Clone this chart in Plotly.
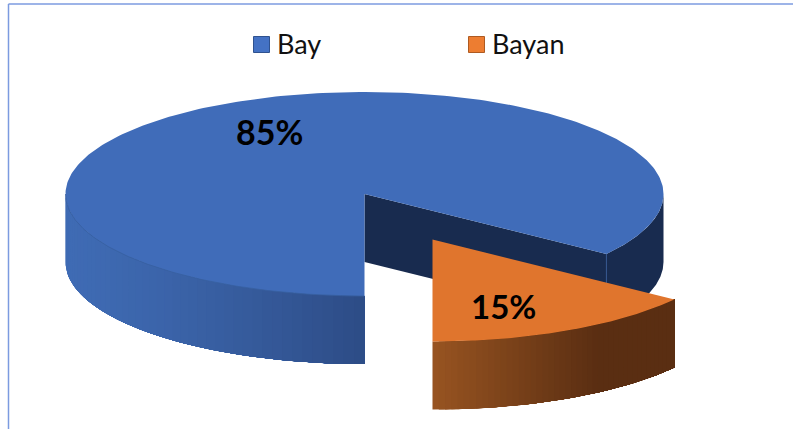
import numpy as np
import plotly.graph_objects as go

labels = ["Bay", "Bayan"]
values = [85, 15]
top_colors = ["#406CB9", "#E0752D"]
legend_colors = ["#4472C4", "#ED7D31"]
legend_edges = ["#2F528F", "#AE5A21"]

W, H = 793, 429
CX, CY, RX, RY, DEPTH = 364.5, 194.0, 299.0, 102.0, 68.0
EXPLODE = (68.0, 45.5)
START = 270.0  # slices run counter-clockwise from straight down, Bayan first
FONT = "Lato, Carlito, sans-serif"


def rim(a0, a1, cx, cy, n=120):
    t = np.radians(np.linspace(a0, a1, n))
    return cx + RX * np.cos(t), cy - RY * np.sin(t)


def lerp(c0, c1, f):
    f = min(max(f, 0), 1)
    return "rgb(%d,%d,%d)" % tuple(round(a + (b - a) * f) for a, b in zip(c0, c1))


def poly(fig, xs, ys, color, lw=0.0):
    fig.add_trace(go.Scatter(x=list(xs), y=list(ys), mode="lines", fill="toself", fillcolor=color,
                             line=dict(color=color, width=lw), hoverinfo="skip", showlegend=False))


def side(fig, a0, a1, cx, cy, colorfn, steps=45):
    # each strip runs to the end of the wall, so the next one paints over it without a seam
    edges = np.linspace(a0, a1, steps + 1)
    for i in range(steps):
        x, y = rim(edges[i], a1, cx, cy, 60)
        xm = cx + RX * np.cos(np.radians((edges[i] + edges[i + 1]) / 2))
        poly(fig, np.r_[x, x[::-1]], np.r_[y, y[::-1] + DEPTH], colorfn(xm))


fig = go.Figure()

orange_span = 360 * values[1] / sum(values)
blue_start = START + orange_span      # 324 degrees
blue_end = START + 360

# Bay: back-right wall
NAVY = "#182B4F"
x, y = rim(blue_start, 360, CX, CY)
poly(fig, np.r_[x, x[::-1]], np.r_[y, y[::-1] + DEPTH], NAVY)

# Bay: cut wall
ex, ey = rim(blue_start, blue_start, CX, CY, 1)
poly(fig, [CX, ex[0], ex[0], CX], [CY, ey[0], ey[0] + DEPTH, CY + DEPTH], NAVY)
fig.add_trace(go.Scatter(x=[ex[0], ex[0]], y=[ey[0], ey[0] + DEPTH], mode="lines",
                         line=dict(color="#33548F", width=1), hoverinfo="skip", showlegend=False))

# Bay: front-left wall gradient
side(fig, 180, 270, CX, CY,
     lambda mx: lerp((63, 107, 180), (45, 76, 134), ((mx - CX + RX) / RX) ** 1.3))

# Bay: top
x, y = rim(blue_start, blue_end, CX, CY, 300)
poly(fig, np.r_[CX, x, CX], np.r_[CY, y, CY], top_colors[0])
x, y = rim(180, 270, CX, CY)
fig.add_trace(go.Scatter(x=x, y=y, mode="lines", line=dict(color="#37609F", width=0.8),
                         hoverinfo="skip", showlegend=False))

# Bayan: wall gradient and top
ox, oy = CX + EXPLODE[0], CY + EXPLODE[1]
side(fig, START, blue_start, ox, oy,
     lambda mx: lerp((152, 84, 33), (90, 46, 18), (mx - ox) / (RX * 0.55)))
x, y = rim(START, blue_start, ox, oy, 100)
poly(fig, np.r_[ox, x, ox], np.r_[oy, y, oy], top_colors[1])

# Legend swatches
legend_x = [261.5, 476.5]
legend_text_x = [275, 490]
legend_y = 44.5
legend_text_y = 43
for name, col, edge, lx in zip(labels, legend_colors, legend_edges, legend_x):
    fig.add_trace(go.Scatter(x=[lx], y=[legend_y], mode="markers", name=name,
                             hoverinfo="skip", showlegend=False,
                             marker=dict(symbol="square", size=16, color=col, line=dict(color=edge, width=1))))

# Legend names
annotations = [dict(x=tx, y=legend_text_y, text=name, showarrow=False, xref="x", yref="y", xanchor="left",
                    font=dict(family=FONT, size=27, color="#111111"))
               for tx, name in zip(legend_text_x, labels)]

# Percentage labels
label_pos = [(269.5, 131.5), (503.5, 306)]
label_size = [34, 33]
annotations += [dict(x=p[0], y=p[1], text="<b>%d%%</b>" % v, showarrow=False, xref="x", yref="y",
                     font=dict(family=FONT, size=s, color="#000000"))
                for p, v, s in zip(label_pos, values, label_size)]

fig.update_layout(
    width=W, height=H, margin=dict(l=0, r=0, t=0, b=0),
    paper_bgcolor="white", plot_bgcolor="white",
    xaxis=dict(range=[0, W], visible=False, fixedrange=True),
    yaxis=dict(range=[H, 0], visible=False, fixedrange=True),
    annotations=annotations,
    showlegend=False,
    shapes=[
        dict(type="line", xref="x", yref="y", x0=8.5, x1=8.5, y0=4, y1=H, line=dict(color="#7C9BE0", width=1.5)),
        dict(type="line", xref="x", yref="y", x0=8.5, x1=W, y0=4, y1=4, line=dict(color="#7C9BE0", width=1.5)),
    ],
)

fig.write_html("out.html", config={"displayModeBar": False},
               post_script="document.body.style.margin='0';document.body.style.overflow='hidden';")
